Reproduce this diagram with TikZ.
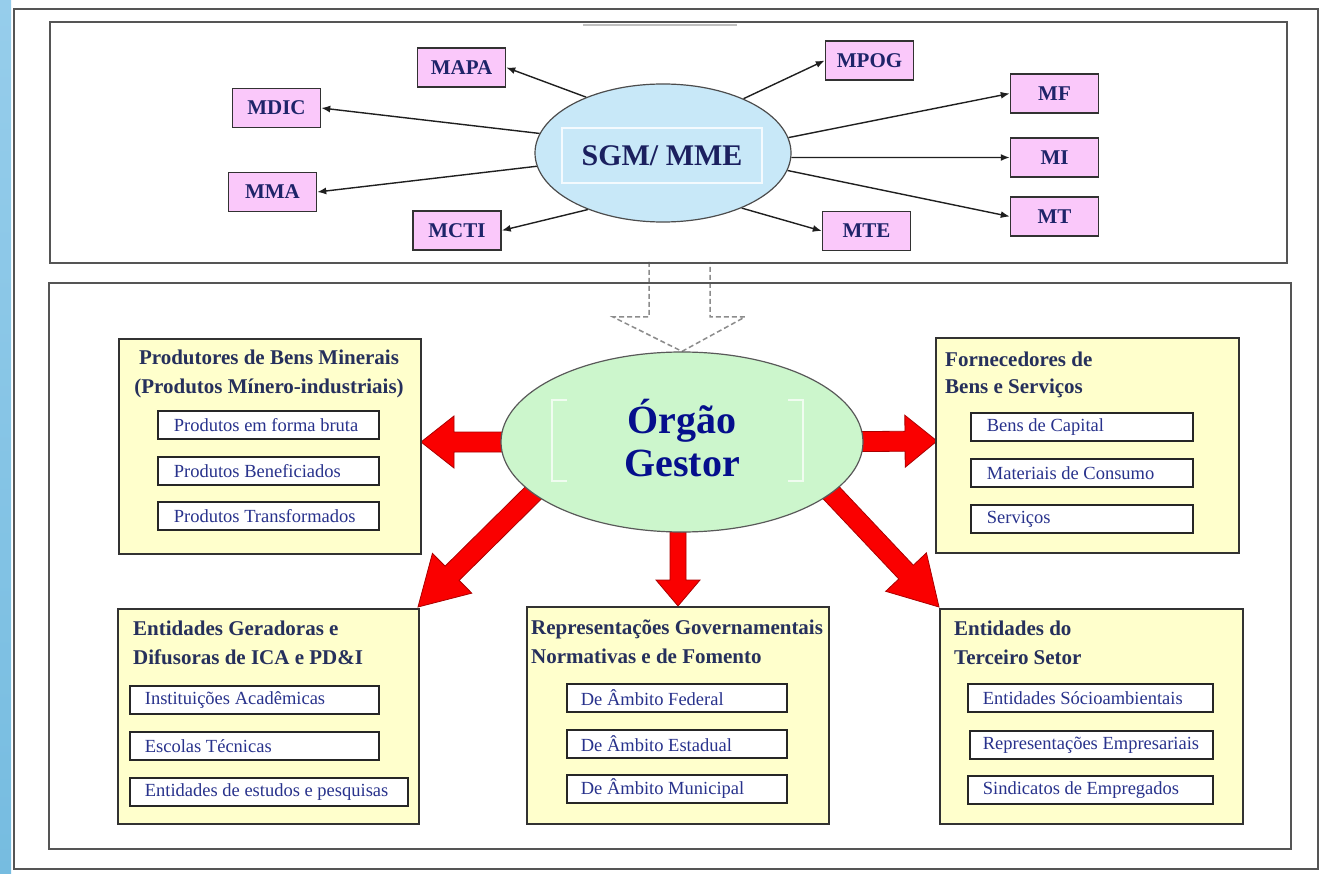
\documentclass[tikz,border=0pt]{standalone}
\usepackage{fontspec}
\setmainfont{Liberation Serif}
\usetikzlibrary{calc,arrows.meta,shapes.geometric}
\definecolor{pinkfill}{RGB}{250,200,250}
\definecolor{bluefill}{RGB}{200,232,248}
\definecolor{greenfill}{RGB}{204,246,204}
\definecolor{yellowfill}{RGB}{255,255,204}
\definecolor{framecol}{RGB}{85,85,85}
\definecolor{boxline}{RGB}{50,50,50}
\definecolor{topcol}{RGB}{30,36,105}
\definecolor{ttlcol}{RGB}{38,48,92}
\definecolor{subcol}{RGB}{40,50,140}
\definecolor{ogcol}{RGB}{5,15,140}
\definecolor{arrred}{RGB}{250,0,0}
\definecolor{arrdark}{RGB}{170,0,0}
\definecolor{stripA}{RGB}{150,205,235}
\definecolor{stripB}{RGB}{118,188,224}
\newcommand\tpfnt{\fontsize{21}{24}\selectfont\bfseries}
\newcommand\ttlfnt{\fontsize{21}{29}\selectfont\bfseries}
\newcommand\sbfnt{\fontsize{18.5}{21}\selectfont}
\newcommand\lbox[2]{\makebox[#1][l]{#2}}
\pgfdeclarelayer{bg}
\pgfdeclarelayer{arr}
\pgfsetlayers{bg,arr,main}
\newcommand\blockarrow[5]{%
  \coordinate (ba-b) at ($(#2)!#5!(#1)$);
  \filldraw[redarrow] ($(#1)!#3!90:(#2)$) -- ($(ba-b)!#3!90:(#2)$) -- ($(ba-b)!#4!90:(#2)$) -- (#2)
    -- ($(ba-b)!#4!-90:(#2)$) -- ($(ba-b)!#3!-90:(#2)$) -- ($(#1)!#3!-90:(#2)$) -- cycle;
}
\begin{document}
\begin{tikzpicture}[x=1pt,y=-1pt,
  frame/.style={draw=framecol, line width=1.8pt, inner sep=0, anchor=north west},
  pinkbox/.style={draw=boxline, fill=pinkfill, line width=1.5pt, minimum width=88pt, minimum height=39pt, inner sep=0, font=\tpfnt, text=topcol},
  ybox/.style={draw=boxline, fill=yellowfill, line width=1.5pt, inner sep=0, anchor=north west},
  subbox/.style={draw=black!85, fill=white, line width=1.7pt, minimum height=28pt, inner ysep=0pt, inner xsep=15pt, font=\sbfnt, text=subcol, anchor=north west},
  ttl/.style={font=\ttlfnt, text=ttlcol, inner sep=0, anchor=base west},
  thin/.style={draw=black!88, line width=1.4pt, -{Latex[length=9pt,width=7pt]}},
  redarrow/.style={fill=arrred, draw=arrdark, line width=0.8pt},
  hollow/.style={draw=black!45, line width=1.5pt, dash pattern=on 5pt off 3pt}
]
\useasboundingbox (0,0) rectangle (1324,874);
\begin{pgfonlayer}{bg}
  \fill[white] (0,0) rectangle (1324,874);
  \shade[top color=stripA, bottom color=stripB] (0,0) rectangle (11,874);
\end{pgfonlayer}

% frames
\node[frame, minimum width=1304pt, minimum height=860pt] (outer) at (13,8) {};
\node[frame, minimum width=1237pt, minimum height=241pt] (topbox) at (49,21) {};
\node[frame, minimum width=1242pt, minimum height=566pt] (botbox) at (48,282) {};
\draw[black!25, line width=2pt] (583,25) -- (737,25);

% top part
\node[ellipse, draw=black!70, fill=bluefill, line width=1.2pt, minimum width=256pt, minimum height=138pt, inner sep=0] (SGM) at (663,153) {};
\node[draw=white!80!bluefill, line width=1.5pt, minimum width=200pt, minimum height=55pt, inner sep=0,
      font=\fontsize{30}{32}\selectfont\bfseries, text=topcol!90!black] (SGMlab) at (662,155.5) {SGM/ MME};

\node[pinkbox] (MAPA) at (461.5,67.5) {MAPA};
\node[pinkbox] (MDIC) at (276.5,108) {MDIC};
\node[pinkbox] (MMA)  at (272.5,192) {MMA};
\node[pinkbox] (MCTI) at (457,230.5) {MCTI};
\node[pinkbox] (MPOG) at (869.5,60.5) {MPOG};
\node[pinkbox] (MF)   at (1054.5,93.5) {MF};
\node[pinkbox] (MI)   at (1054.5,157.5) {MI};
\node[pinkbox] (MT)   at (1054.5,216.5) {MT};
\node[pinkbox] (MTE)  at (866.5,231) {MTE};

% centre
\node[ellipse, draw=black!65, fill=greenfill, line width=1.2pt, minimum width=362pt, minimum height=180pt, inner sep=0] (OG) at (682,442) {};
\draw[white!70!greenfill, line width=1.3pt] (567,400) -- (552,400) -- (552,481) -- (567,481);
\draw[white!70!greenfill, line width=1.3pt] (788,400) -- (803,400) -- (803,481) -- (788,481);
\node[align=center, font=\fontsize{40}{43}\selectfont\bfseries, text=ogcol, inner sep=0] (OGt) at (682,438) {Órgão\\Gestor};

% yellow boxes
\node[ybox, minimum width=302pt, minimum height=215pt] (Prod) at (118,338) {};
\node[ttl, anchor=base] (ProdT1) at (269,364) {Produtores de Bens Minerais};
\node[ttl, anchor=base] (ProdT2) at (269,393) {(Produtos Mínero-industriais)};
\node[subbox, inner xsep=16pt] (P1) at (157,410) {\lbox{189pt}{Produtos em forma bruta}};
\node[subbox, inner xsep=16pt] (P2) at (157,456) {\lbox{189pt}{Produtos Beneficiados}};
\node[subbox, inner xsep=16pt] (P3) at (157,501) {\lbox{189pt}{Produtos Transformados}};

\node[ybox, minimum width=303pt, minimum height=215pt] (Forn) at (935,337) {};
\node[ttl] (FornT1) at (945,366) {Fornecedores de};
\node[ttl] (FornT2) at (945,393) {Bens e Serviços};
\node[subbox, inner xsep=16pt] (F1) at (970,412) {\lbox{190pt}{Bens de Capital}};
\node[subbox, inner xsep=16pt] (F2) at (970,458) {\lbox{190pt}{Materiais de Consumo}};
\node[subbox, inner xsep=16pt] (F3) at (970,504) {\lbox{190pt}{Serviços}};

\node[ybox, minimum width=301pt, minimum height=215pt] (Ent) at (117,608) {};
\node[ttl] (EntT1) at (133,635) {Entidades Geradoras e};
\node[ttl] (EntT2) at (133,664) {Difusoras de ICA e PD\&I};
\node[subbox] (E1) at (129,685) {\lbox{219pt}{Instituições Acadêmicas}};
\node[subbox] (E2) at (129,731) {\lbox{219pt}{Escolas Técnicas}};
\node[subbox] (E3) at (129,777) {\lbox{248pt}{Entidades de estudos e pesquisas}};

\node[ybox, minimum width=302pt, minimum height=217pt] (Rep) at (526,606) {};
\node[ttl] (RepT1) at (531,634) {Representações Governamentais};
\node[ttl] (RepT2) at (531,663) {Normativas e de Fomento};
\node[subbox, inner xsep=14pt] (R1) at (566,683) {\lbox{192pt}{De Âmbito Federal}};
\node[subbox, inner xsep=14pt] (R2) at (566,729) {\lbox{192pt}{De Âmbito Estadual}};
\node[subbox, inner xsep=14pt] (R3) at (566,774) {\lbox{192pt}{De Âmbito Municipal}};

\node[ybox, minimum width=303pt, minimum height=215pt] (Ter) at (939,608) {};
\node[ttl] (TerT1) at (954,635) {Entidades do};
\node[ttl] (TerT2) at (954,664) {Terceiro Setor};
\node[subbox] (T1) at (967,683) {\lbox{215pt}{Entidades Sócioambientais}};
\node[subbox, inner xsep=13pt] (T2) at (969,730) {\lbox{217pt}{Representações Empresariais}};
\node[subbox] (T3) at (967,775) {\lbox{215pt}{Sindicatos de Empregados}};

% connectors
\begin{pgfonlayer}{arr}
  \draw[thin] (SGM.144) -- (MAPA.east);
  \draw[thin] (SGM.171) -- (MDIC.east);
  \draw[thin] (SGM.186) -- (MMA.east);
  \draw[thin] (SGM.217) -- (MCTI.east);
  \draw[thin] (SGM.34) -- (MPOG.west);
  \draw[thin] (SGM.7) -- (MF.west);
  \draw[thin] (SGM.-2) -- (MI.west);
  \draw[thin] (SGM.-8) -- (MT.west);
  \draw[thin] (SGM.-35) -- (MTE.west);

  \draw[hollow] (649,262) -- (649,317) -- (613,317) -- (OG.north) -- (745,317) -- (710,317) -- (710,262);

  \coordinate (sL) at (560,442);  \coordinate (tL) at (421,442);
  \coordinate (sR) at (800,442);  \coordinate (tR) at (937,441);
  \coordinate (sD) at (678,480);  \coordinate (tD) at (678,606);
  \coordinate (sDL) at (602,425); \coordinate (tDL) at (418,607);
  \coordinate (sDR) at (754,411); \coordinate (tDR) at (939,607);
  \blockarrow{sL}{tL}{10pt}{26pt}{33pt}
  \blockarrow{sR}{tR}{10pt}{26pt}{32pt}
  \blockarrow{sD}{tD}{8pt}{22pt}{26pt}
  \blockarrow{sDL}{tDL}{10pt}{28pt}{48pt}
  \blockarrow{sDR}{tDR}{10pt}{28pt}{48pt}
\end{pgfonlayer}
\end{tikzpicture}
\end{document}
